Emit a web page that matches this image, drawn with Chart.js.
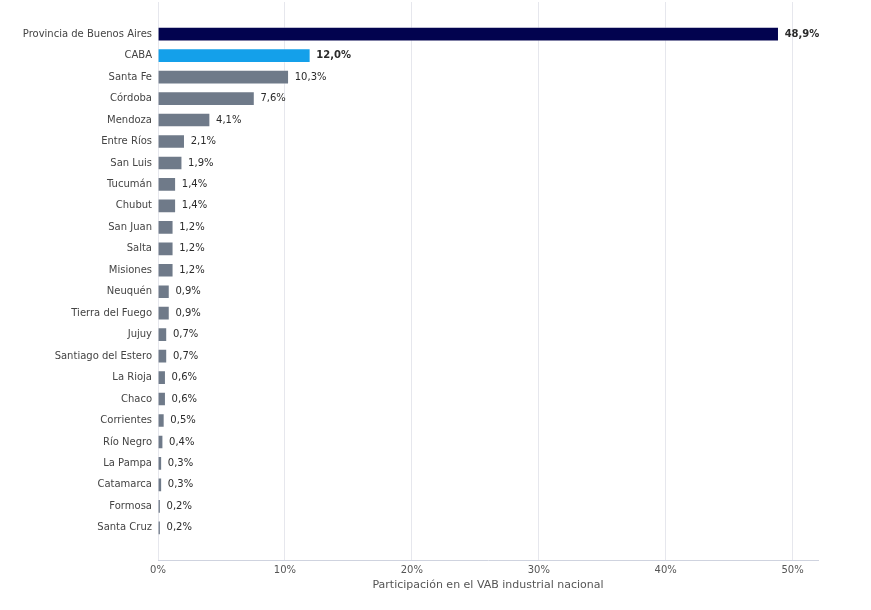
<!DOCTYPE html>
<html>
<head>
<meta charset="utf-8">
<script src="https://cdn.jsdelivr.net/npm/chart.js@4.4.1/dist/chart.umd.min.js"></script>
<style>
  html, body { margin: 0; padding: 0; background: #ffffff; }
  #wrap { width: 871px; height: 610px; position: relative; }
</style>
</head>
<body>
<div id="wrap"><canvas id="c"></canvas></div>
<script>
const categories = [
  "Provincia de Buenos Aires", "CABA", "Santa Fe", "Córdoba", "Mendoza", "Entre Ríos",
  "San Luis", "Tucumán", "Chubut", "San Juan", "Salta", "Misiones", "Neuquén",
  "Tierra del Fuego", "Jujuy", "Santiago del Estero", "La Rioja", "Chaco", "Corrientes",
  "Río Negro", "La Pampa", "Catamarca", "Formosa", "Santa Cruz"
];
const values = [
  48.9, 12.0, 10.3, 7.6, 4.1, 2.1, 1.9, 1.4, 1.4, 1.2, 1.2, 1.2, 0.9,
  0.9, 0.7, 0.7, 0.6, 0.6, 0.5, 0.4, 0.3, 0.3, 0.2, 0.2
];
const xTicks = [0, 10, 20, 30, 40, 50];
const xTitle = "Participación en el VAB industrial nacional";

const colorFor = (i) => i === 0 ? "#02034f" : (i === 1 ? "#14a0ea" : "#6f7a89");

// empty band above and below, as in the reference
const labels = [""].concat(categories, [""]);
const data = [null].concat(values, [null]);
const colors = ["#000"].concat(categories.map((_, i) => colorFor(i)), ["#000"]);

const valueLabels = {
  id: "valueLabels",
  afterDatasetsDraw(chart) {
    const ctx = chart.ctx;
    const meta = chart.getDatasetMeta(0);
    ctx.save();
    ctx.textBaseline = "middle";
    ctx.textAlign = "left";
    ctx.fillStyle = "#2b2b2b";
    meta.data.forEach((bar, k) => {
      const v = data[k];
      if (v === null || v === undefined) return;
      const i = k - 1;
      ctx.font = (i < 2 ? "bold " : "") + "10px 'DejaVu Sans'";
      ctx.fillText(v.toFixed(1).replace(".", ",") + "%", bar.x + 6, bar.y);
    });
    ctx.restore();
  }
};

new Chart(document.getElementById("c"), {
  type: "bar",
  data: {
    labels: labels,
    datasets: [{
      data: data,
      backgroundColor: colors,
      borderColor: "rgba(255,255,255,0.35)",
      borderWidth: 1,
      barThickness: 14
    }]
  },
  options: {
    indexAxis: "y",
    responsive: true,
    maintainAspectRatio: false,
    animation: false,
    layout: { padding: { top: 2, right: 53, bottom: 14, left: 0 } },
    plugins: { legend: { display: false }, tooltip: { enabled: false } },
    scales: {
      x: {
        min: 0,
        max: 52,
        afterFit(scale) { scale.height = 36; scale.paddingLeft = 0; scale.paddingRight = 0; },
        afterBuildTicks(scale) { scale.ticks = xTicks.map(v => ({ value: v })); },
        ticks: {
          includeBounds: false,
          padding: 4,
          color: "#555",
          font: { family: "DejaVu Sans", size: 10 },
          callback: (v) => v + "%"
        },
        grid: { color: "#e6e7ed", lineWidth: 1, drawTicks: false },
        border: { display: true, color: "#cfd3df", width: 1 },
        title: {
          display: true,
          text: xTitle,
          color: "#555",
          font: { family: "DejaVu Sans", size: 11 },
          padding: { top: 4, bottom: 4 }
        }
      },
      y: {
        afterFit(scale) { scale.width = 158; scale.paddingTop = 0; scale.paddingBottom = 0; },
        ticks: {
          padding: 6,
          color: "#444",
          font: { family: "DejaVu Sans", size: 10 },
          autoSkip: false
        },
        grid: { display: false, drawTicks: false },
        border: { display: false }
      }
    }
  },
  plugins: [valueLabels]
});
</script>
</body>
</html>
